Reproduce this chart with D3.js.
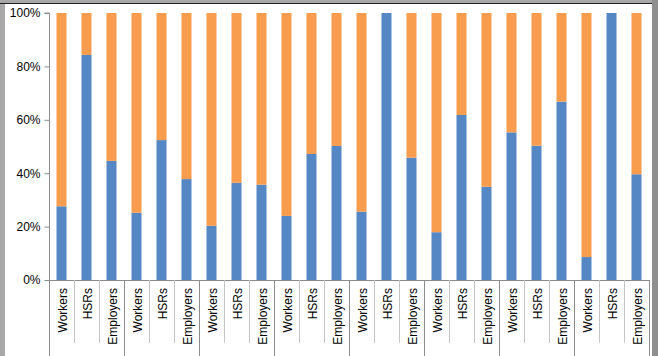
<!DOCTYPE html>
<html>
<head>
<meta charset="utf-8">
<script src="https://cdn.jsdelivr.net/npm/d3@7"></script>
<style>
  html, body { margin: 0; padding: 0; background: #fff; }
  svg { display: block; }
  text { font-family: "Liberation Sans", Arial, sans-serif; fill: #000; }
</style>
</head>
<body>
<svg id="chart" width="658" height="356"></svg>
<script>
// ---- data ----
const categories = ["Workers","HSRs","Employers","Workers","HSRs","Employers","Workers","HSRs","Employers","Workers","HSRs","Employers","Workers","HSRs","Employers","Workers","HSRs","Employers","Workers","HSRs","Employers","Workers","HSRs","Employers"];
const blueValues   = [27.6, 84.3, 44.6, 25.2, 52.4, 37.8, 20.3, 36.4, 35.7, 24.0, 47.2, 50.2, 25.6, 100, 45.8, 17.9, 61.8, 34.9, 55.3, 50.3, 66.8, 8.6, 100, 39.6];
const orangeValues = [72.4, 15.7, 55.4, 74.8, 47.6, 62.2, 79.7, 63.6, 64.3, 76.0, 52.8, 49.8, 74.4, 0, 54.2, 82.1, 38.2, 65.1, 44.7, 49.7, 33.2, 91.4, 0, 60.4];
const yTicks = [0, 0.2, 0.4, 0.6, 0.8, 1];
const groupSize = 3;

// ---- layout ----
const svg = d3.select("#chart");
const W = 658, H = 356;
const pLeft = 49, pRight = 649, pTop = 13, pBottom = 280;
const colors = { blue: "#5687C5", orange: "#F89C4E" };
const axisColor = "#8c8c8c";

// frame
svg.append("rect").attr("x", 0).attr("y", 0).attr("width", W).attr("height", H).attr("fill", "#a8a8a8");
svg.append("rect").attr("x", 5).attr("y", 4).attr("width", 647).attr("height", H - 4).attr("fill", "#fff");
svg.append("line").attr("x1", 0).attr("x2", 652).attr("y1", 3.5).attr("y2", 3.5).attr("stroke", "#222").attr("stroke-width", 1);
svg.append("rect").attr("x", 652).attr("y", 0).attr("width", 6).attr("height", H).attr("fill", "#8f8f8f");

const idx = d3.range(categories.length);
const x = d3.scaleBand().domain(idx).range([pLeft, pRight]).paddingInner(0.6).paddingOuter(0.3);
const y = d3.scaleLinear().domain([0, 1]).range([pBottom, pTop]);

const rows = idx.map(i => ({ i, blue: blueValues[i], orange: orangeValues[i] }));
const stack = d3.stack().keys(["blue", "orange"]).offset(d3.stackOffsetExpand);
const series = stack(rows);

svg.append("g").selectAll("g").data(series).join("g")
  .attr("fill", d => colors[d.key])
  .selectAll("rect").data(d => d).join("rect")
  .attr("x", d => x(d.data.i))
  .attr("width", x.bandwidth())
  .attr("y", d => y(d[1]))
  .attr("height", d => y(d[0]) - y(d[1]));

// y axis
const yAxis = d3.axisLeft(y).tickValues(yTicks).tickFormat(d3.format(".0%")).tickSize(5).tickPadding(4);
const gy = svg.append("g").attr("transform", `translate(${pLeft + 0.5},0)`).call(yAxis);
gy.select(".domain").attr("stroke", axisColor).attr("d", `M-5,${pTop}H0V${H}`);
gy.selectAll(".tick line").attr("stroke", axisColor);
gy.selectAll(".tick text").attr("font-size", 12).attr("font-family", "Liberation Sans, Arial, sans-serif").attr("fill", "#000");

// x axis
const step = x.step();
const gx = svg.append("g");
gx.append("line").attr("x1", pLeft).attr("x2", pRight + 1).attr("y1", pBottom + 0.5).attr("y2", pBottom + 0.5).attr("stroke", axisColor);
d3.range(1, categories.length + 1).forEach(k => {
  const xx = Math.round(pLeft + k * step) + 0.5;
  const isGroup = k % groupSize === 0;
  gx.append("line").attr("x1", xx).attr("x2", xx)
    .attr("y1", pBottom).attr("y2", isGroup ? H : 343)
    .attr("stroke", isGroup ? axisColor : "#c4c4c4");
});
gx.selectAll("text.cat").data(idx).join("text")
  .attr("class", "cat")
  .attr("transform", i => `translate(${x(i) + x.bandwidth() / 2 + 1},288) rotate(-90)`)
  .attr("text-anchor", "end")
  .attr("dominant-baseline", "central")
  .attr("font-size", 12)
  .text(i => categories[i]);
</script>
</body>
</html>
